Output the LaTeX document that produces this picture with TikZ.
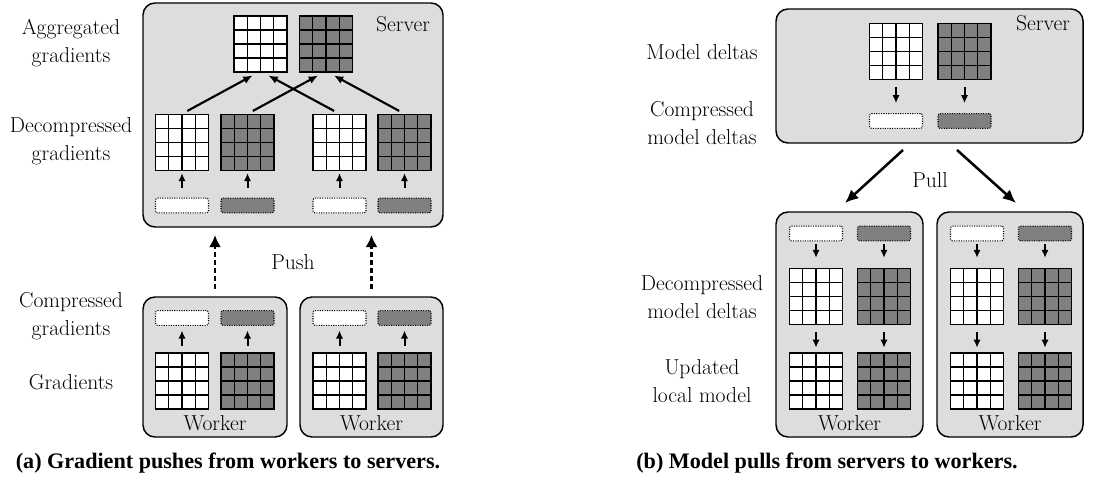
\documentclass[tikz,border=0pt]{standalone}
\usepackage{fontspec}
\newfontfamily\capfont{Liberation Serif}
\usetikzlibrary{arrows.meta,calc}

\definecolor{boxgray}{RGB}{221,221,221}
\definecolor{cellgray}{RGB}{128,128,128}

\tikzset{every picture/.style={line width=0.75pt}}
\tikzset{
  txt/.style={font=\fontsize{16.2}{21}\selectfont, align=center, inner sep=0pt},
  captxt/.style={font=\capfont\bfseries\fontsize{16.6}{19}\selectfont, inner sep=0pt},
  box/.style={draw, line width=1.1pt, fill=boxgray, rounded corners=9pt, inner sep=0pt},
  mat/.style={draw, line width=1pt, inner sep=0pt, minimum width=39.75pt, minimum height=42pt,
    path picture={
      \foreach \k in {1,2,3} {
        \draw[line width=1pt] ($(path picture bounding box.north west)!\k/4!(path picture bounding box.north east)$) -- ($(path picture bounding box.south west)!\k/4!(path picture bounding box.south east)$);
        \draw[line width=1pt] ($(path picture bounding box.north west)!\k/4!(path picture bounding box.south west)$) -- ($(path picture bounding box.north east)!\k/4!(path picture bounding box.south east)$);
      }}},
  bar/.style={draw, densely dotted, line width=0.8pt, rounded corners=1.5pt, inner sep=0pt, minimum width=39.75pt, minimum height=11pt},
  sarr/.style={-{Latex[length=6pt,width=5.5pt]}, line width=1.5pt},
  garr/.style={-{Latex[length=7pt,width=6pt]}, line width=1.6pt, shorten <=4.5pt, shorten >=4.5pt},
  parr/.style={-{Latex[length=10pt,width=9pt]}, line width=1.9pt},
  darr/.style={-{Latex[length=9pt,width=9pt]}, line width=1.7pt, dash pattern=on 3.6pt off 2.4pt, shorten <=5.5pt, shorten >=5.5pt},
}

\begin{document}
\begin{tikzpicture}[x=0.75pt,y=0.75pt,yscale=-1,xscale=1]
\useasboundingbox (0,0) rectangle (1105,477);

%%% (a) push

% Server box
\node[box, minimum width=225pt, minimum height=168pt] (srvA) at (293,115) {};
\node[txt] (srvAt) at (403,24) {Server};

% Aggregated gradients
\node[mat, fill=white] (aggW) at (260.5,44) {};
\node[mat, fill=cellgray] (aggD) at (326,44) {};

% Decompressed gradients
\node[mat, fill=white] (decW1) at (182,142.5) {};
\node[mat, fill=cellgray] (decD1) at (247.5,142.5) {};
\node[mat, fill=white] (decW2) at (339.5,142.5) {};
\node[mat, fill=cellgray] (decD2) at (404.5,142.5) {};

% Compressed gradients (server side)
\node[bar, fill=white] (rcvW1) at (182,205.5) {};
\node[bar, fill=cellgray] (rcvD1) at (247.5,205.5) {};
\node[bar, fill=white] (rcvW2) at (339.5,205.5) {};
\node[bar, fill=cellgray] (rcvD2) at (404.5,205.5) {};

\foreach \n in {W1,D1,W2,D2}
  \draw[sarr, shorten <=7.5pt, shorten >=1.5pt] (rcv\n.north) -- (dec\n.south);

% aggregation
\draw[garr] (decW1.north) -- ([xshift=-2pt]aggW.south);
\draw[garr] (decD1.north) -- ([xshift=-2pt]aggD.south);
\draw[garr] (decW2.north) -- ([xshift=2pt]aggW.south);
\draw[garr] (decD2.north) -- ([xshift=2pt]aggD.south);

% Worker boxes
\node[box, minimum width=108pt, minimum height=105pt] (wrkA1) at (215,367) {};
\node[box, minimum width=107.25pt, minimum height=105pt] (wrkA2) at (371.5,367) {};
\node[txt] (wrkA1t) at (215,423) {Worker};
\node[txt] (wrkA2t) at (371.5,423) {Worker};

% Gradients
\node[mat, fill=white] (grdW1) at (182,381) {};
\node[mat, fill=cellgray] (grdD1) at (247.5,381) {};
\node[mat, fill=white] (grdW2) at (339.5,381) {};
\node[mat, fill=cellgray] (grdD2) at (404.5,381) {};

% Compressed gradients (worker side)
\node[bar, fill=white] (cmpW1) at (182,318) {};
\node[bar, fill=cellgray] (cmpD1) at (247.5,318) {};
\node[bar, fill=white] (cmpW2) at (339.5,318) {};
\node[bar, fill=cellgray] (cmpD2) at (404.5,318) {};

\foreach \n in {W1,D1,W2,D2}
  \draw[sarr, shorten <=5pt, shorten >=3.5pt] (grd\n.north) -- (cmp\n.south);

% Push
\draw[darr] (wrkA1.north) -- (wrkA1.north |- srvA.south);
\draw[darr] (wrkA2.north) -- (wrkA2.north |- srvA.south);
\node[txt] (push) at (293,262) {Push};

% Text Node
\node[txt] (lAgg) at (71,43.5) {Aggregated\\gradients};
% Text Node
\node[txt] (lDec) at (71,141.5) {Decompressed\\gradients};
% Text Node
\node[txt] (lCmp) at (71,316) {Compressed\\gradients};
% Text Node
\node[txt] (lGrd) at (71,382) {Gradients};

\node[captxt] (capA) at (228,463) {(a) Gradient pushes from workers to servers.};

%%% (b) pull

% Server box
\node[box, minimum width=230.25pt, minimum height=100.5pt] (srvB) at (929.5,76) {};
\node[txt] (srvBt) at (1043,23) {Server};

% Model deltas
\node[mat, fill=white] (mdW) at (896,51.5) {};
\node[mat, fill=cellgray] (mdD) at (964.5,51.5) {};
\node[bar, fill=white] (cmdW) at (896,121) {};
\node[bar, fill=cellgray] (cmdD) at (964.5,121) {};
\draw[sarr, shorten <=5pt, shorten >=7.5pt] (mdW.south) -- (cmdW.north);
\draw[sarr, shorten <=5pt, shorten >=7.5pt] (mdD.south) -- (cmdD.north);

% Worker boxes
\node[box, minimum width=110.25pt, minimum height=168.75pt] (wrkB1) at (849.5,324.5) {};
\node[box, minimum width=109.5pt, minimum height=168.75pt] (wrkB2) at (1010,324.5) {};
\node[txt] (wrkB1t) at (849.5,423) {Worker};
\node[txt] (wrkB2t) at (1010,423) {Worker};

% received deltas, decompressed deltas, updated model
\foreach \w/\xw/\xd in {1/816/884, 2/977/1045} {
  \node[bar, fill=white] (rdW\w) at (\xw,233.5) {};
  \node[bar, fill=cellgray] (rdD\w) at (\xd,233.5) {};
  \node[mat, fill=white] (ddW\w) at (\xw,296.5) {};
  \node[mat, fill=cellgray] (ddD\w) at (\xd,296.5) {};
  \node[mat, fill=white] (umW\w) at (\xw,381) {};
  \node[mat, fill=cellgray] (umD\w) at (\xd,381) {};
  \foreach \c in {W,D} {
    \draw[sarr, shorten <=2pt, shorten >=7.5pt] (rd\c\w.south) -- (dd\c\w.north);
    \draw[sarr, shorten <=5pt, shorten >=3.5pt] (dd\c\w.south) -- (um\c\w.north);
  }
}

% Pull
\coordinate (pl1) at (903,150);
\coordinate (pl2) at (957,150);
\coordinate (pl1e) at (845,203);
\coordinate (pl2e) at (1016,203);
\draw[parr] (pl1) -- (pl1e);
\draw[parr] (pl2) -- (pl2e);
\node[txt] (pull) at (930,180) {Pull};

% Text Node
\node[txt] (lMd) at (702,52) {Model deltas};
% Text Node
\node[txt] (lCmd) at (702,123.5) {Compressed\\model deltas};
% Text Node
\node[txt] (lDmd) at (702,297.5) {Decompressed\\model deltas};
% Text Node
\node[txt] (lUpd) at (702,381) {Updated\\local model};

\node[captxt] (capB) at (827,463) {(b) Model pulls from servers to workers.};

\end{tikzpicture}
\end{document}
